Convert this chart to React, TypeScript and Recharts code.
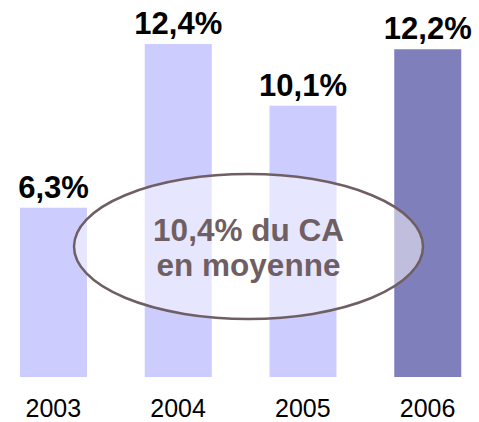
import React from "react";
import { BarChart, Bar, XAxis, YAxis, LabelList, Cell } from "recharts";

const years = ["2003", "2004", "2005", "2006"];
const shares = [6.3, 12.4, 10.1, 12.2];
const valueLabels = ["6,3%", "12,4%", "10,1%", "12,2%"];
const barColors = ["#CCCCFF", "#CCCCFF", "#CCCCFF", "#7F7FBB"];
const noteLines = ["10,4% du CA", "en moyenne"];

const data = years.map((y, i) => ({ year: y, value: shares[i], label: valueLabels[i] }));

const FONT = "'Liberation Sans', Arial, sans-serif";
const NOTE_COLOR = "#6F5F63";

const Note = () => (
  <svg
    width={479}
    height={422}
    style={{ position: "absolute", left: 0, top: 0, pointerEvents: "none" }}
  >
    <ellipse
      cx={248.5}
      cy={246.5}
      rx={174.5}
      ry={72.5}
      fill="#FFFFFF"
      fillOpacity={0.5}
      stroke={NOTE_COLOR}
      strokeWidth={2.5}
    />
    <text x={248.5} y={241} textAnchor="middle" fontFamily={FONT} fontWeight="bold" fontSize={31.5} fill={NOTE_COLOR}>
      {noteLines[0]}
    </text>
    <text x={248.5} y={276} textAnchor="middle" fontFamily={FONT} fontWeight="bold" fontSize={31.5} fill={NOTE_COLOR}>
      {noteLines[1]}
    </text>
  </svg>
);

export default function App() {
  return (
    <div style={{ position: "absolute", left: 0, top: 0, width: 479, height: 422, overflow: "hidden", background: "#fff" }}>
      <div style={{ position: "absolute", left: -9, top: 0 }}>
        <BarChart width={499} height={422} data={data} margin={{ top: 1, right: 0, bottom: 0, left: 0 }}>
          <XAxis
            dataKey="year"
            axisLine={false}
            tickLine={false}
            tickSize={0}
            tickMargin={22}
            height={45}
            interval={0}
            tick={{ fill: "#000", fontSize: 25, fontFamily: FONT }}
          />
          <YAxis hide domain={[0, 14]} />
          <Bar dataKey="value" barSize={67} isAnimationActive={false}>
            {data.map((d, i) => (
              <Cell key={d.year} fill={barColors[i]} />
            ))}
            <LabelList
              dataKey="label"
              position="top"
              offset={10}
              fill="#000"
              fontSize={31}
              fontWeight="bold"
              fontFamily={FONT}
            />
          </Bar>
        </BarChart>
      </div>
      <Note />
    </div>
  );
}
